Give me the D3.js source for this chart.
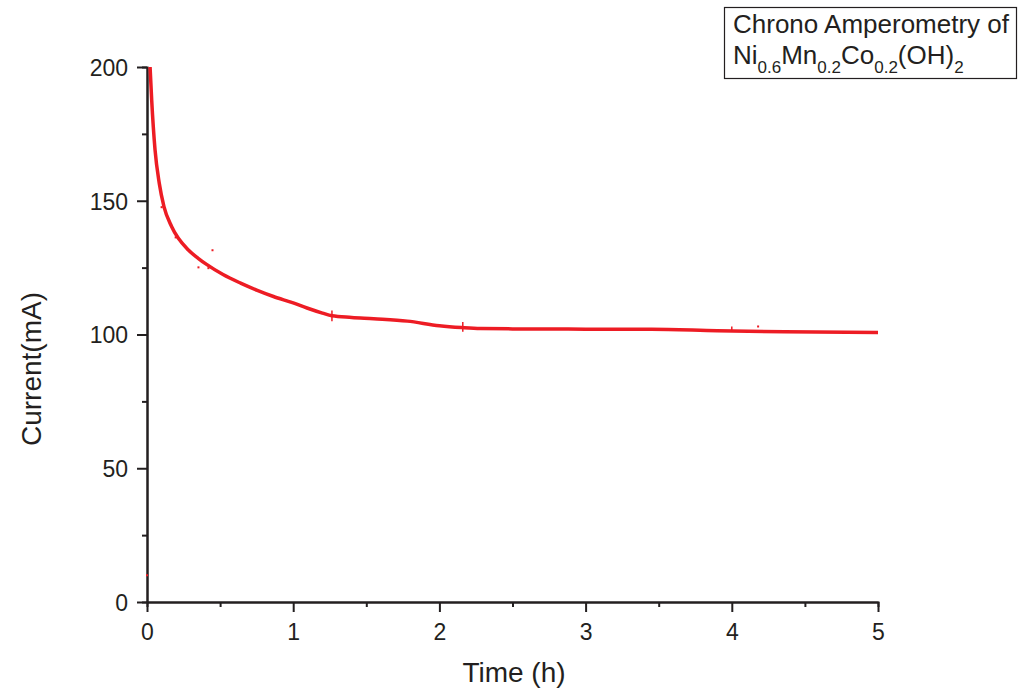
<!DOCTYPE html>
<html>
<head>
<meta charset="utf-8">
<script src="https://cdn.jsdelivr.net/npm/d3@7"></script>
<style>
  body { margin: 0; background: #fff; }
  svg { display: block; font-family: "Liberation Sans", Arial, sans-serif; }
</style>
</head>
<body>
<svg id="canvas" width="1020" height="693"></svg>
<script>
// current vs time
let timeH = [0.021, 0.032, 0.055, 0.084, 0.116, 0.169, 0.283, 0.35, 0.41, 0.52, 0.64, 0.75, 0.865,
             1.0, 1.094, 1.2, 1.265, 1.4, 1.55, 1.78, 2.0, 2.15, 2.28, 2.5, 2.76, 3.0, 3.45, 3.9, 4.36, 5.0]
let currentMA = [200, 187.7, 169, 156.5, 147.8, 140.3, 131.6, 128.5, 126.1, 122.4, 119.2, 116.6, 114.2,
                 111.8, 109.9, 108, 107, 106.4, 105.9, 105, 103.3, 102.6, 102.2, 102.1, 102.1, 102, 102, 101.4, 101.0, 100.75]

// stray points
let strayT = [0.0, 0.1, 0.196, 0.352, 0.42, 0.448, 4.18]
let strayI = [10, 147.6, 136.3, 125.1, 124.8, 131.5, 103]

// little vertical spikes on the trace
let spikeT = [1.265, 2.16, 4.0]
let spikeLo = [105, 101, 100.9]
let spikeHi = [109, 104.7, 103]

let xTicks = [0, 1, 2, 3, 4, 5]
let yTicks = [0, 50, 100, 150, 200]

let canvas = d3.select('#canvas')
let axisColor = '#231f20'
let red = '#ed1c24'

let x = d3.scaleLinear().domain([0, 5]).range([147, 878])
let y = d3.scaleLinear().domain([0, 200]).range([602, 67])

// minor ticks first
canvas.append('g')
      .attr('transform', 'translate(0,602)')
      .call(d3.axisBottom(x).tickValues(d3.range(0.5, 5, 1)).tickSize(5).tickFormat(''))
canvas.append('g')
      .attr('transform', 'translate(147,0)')
      .call(d3.axisLeft(y).tickValues(d3.range(25, 200, 50)).tickSize(5).tickFormat(''))

let xAxis = canvas.append('g')
      .attr('transform', 'translate(0,602)')
      .call(d3.axisBottom(x).tickValues(xTicks).tickFormat(d3.format('d')).tickSize(10).tickSizeOuter(0).tickPadding(8))
let yAxis = canvas.append('g')
      .attr('transform', 'translate(147,0)')
      .call(d3.axisLeft(y).tickValues(yTicks).tickFormat(d3.format('d')).tickSize(10).tickSizeOuter(0).tickPadding(9))

canvas.selectAll('.domain, .tick line')
      .attr('stroke', axisColor)
      .attr('stroke-width', 2)
canvas.selectAll('.tick text')
      .attr('fill', axisColor)
      .attr('font-size', 23)
      .attr('font-family', '"Liberation Sans", Arial, sans-serif')
xAxis.selectAll('.tick text').attr('dy', '0.85em')
yAxis.selectAll('.tick text').attr('dy', '0.36em')

// trace
let points = timeH.map((t, i) => [t, currentMA[i]])
canvas.append('path')
      .datum(points)
      .attr('fill', 'none')
      .attr('stroke', red)
      .attr('stroke-width', 3.5)
      .attr('d', d3.line().x(d => x(d[0])).y(d => y(d[1])).curve(d3.curveMonotoneX))

canvas.selectAll('.stray')
      .data(strayT)
      .enter()
      .append('rect')
      .attr('class', 'stray')
      .attr('x', d => x(d) - 1)
      .attr('y', (d, i) => y(strayI[i]) - 1)
      .attr('width', 2)
      .attr('height', 2)
      .attr('fill', red)

canvas.selectAll('.spike')
      .data(spikeT)
      .enter()
      .append('line')
      .attr('class', 'spike')
      .attr('x1', d => x(d))
      .attr('x2', d => x(d))
      .attr('y1', (d, i) => y(spikeLo[i]))
      .attr('y2', (d, i) => y(spikeHi[i]))
      .attr('stroke', red)
      .attr('stroke-width', 1.5)

// axis titles
canvas.append('text')
      .attr('x', 514)
      .attr('y', 682)
      .attr('text-anchor', 'middle')
      .attr('fill', axisColor)
      .style('font-size', '28px')
      .text('Time (h)')
canvas.append('text')
      .attr('transform', 'translate(41,369) rotate(-90)')
      .attr('text-anchor', 'middle')
      .attr('fill', axisColor)
      .style('font-size', '28px')
      .text('Current(mA)')

// legend box
canvas.append('rect')
      .attr('x', 724.5)
      .attr('y', 7.5)
      .attr('width', 292)
      .attr('height', 71)
      .attr('fill', 'white')
      .attr('stroke', axisColor)
      .attr('stroke-width', 1.2)
canvas.append('text')
      .attr('x', 733)
      .attr('y', 33)
      .attr('fill', axisColor)
      .style('font-size', '26px')
      .text('Chrono Amperometry of')

let formula = canvas.append('text')
      .attr('x', 733)
      .attr('y', 64)
      .attr('fill', axisColor)
      .style('font-size', '26px')
let parts = [['Ni', false], ['0.6', true], ['Mn', false], ['0.2', true], ['Co', false], ['0.2', true], ['(OH)', false], ['2', true]]
parts.forEach(p => {
  let s = formula.append('tspan').text(p[0])
  if (p[1]) {
    s.style('font-size', '17px').attr('dy', 9)
  } else {
    s.attr('dy', formula.selectAll('tspan').size() > 1 ? -9 : 0)
  }
})
</script>
</body>
</html>
